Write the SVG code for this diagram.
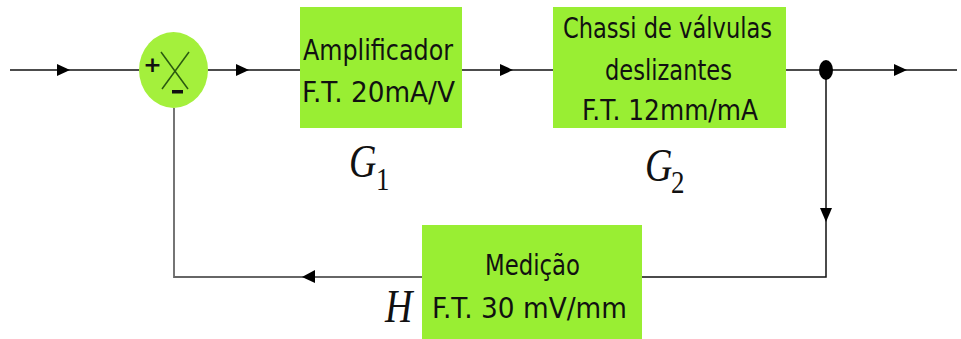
<svg xmlns="http://www.w3.org/2000/svg" width="961" height="339" viewBox="0 0 961 339">
<style>
.box{fill:#99ee33;}
.t{font-family:"DejaVu Sans","Liberation Sans",sans-serif;font-size:28px;fill:#111;text-anchor:middle;}
.m{font-family:"Liberation Serif",serif;font-style:italic;fill:#111;}
.s{font-family:"Liberation Serif",serif;font-size:27px;fill:#111;}
.ln{stroke:#111;stroke-width:1.5;fill:none;}
.fb{stroke:#666;stroke-width:1.8;fill:none;}
.ar{fill:#000;}
</style>
<g id="connectors">
  <line class="ln" x1="10" y1="70" x2="139" y2="70"/>
  <line class="ln" x1="208" y1="70" x2="300" y2="70"/>
  <line class="ln" x1="462" y1="70" x2="553" y2="70"/>
  <line class="ln" x1="786" y1="70" x2="957" y2="70"/>
  <polyline class="ln" points="826,70 826,277 642,277"/>
  <polyline class="fb" points="422,277 174,277 174,108"/>
  <polygon class="ar" points="57,64 70,70 57,76"/>
  <polygon class="ar" points="236,64 249,70 236,76"/>
  <polygon class="ar" points="500,64 513,70 500,76"/>
  <polygon class="ar" points="894,64 907,70 894,76"/>
  <polygon class="ar" points="820,208 832,208 826,222"/>
  <polygon class="ar" points="315,270 315,283 302,277"/>
  <ellipse cx="826" cy="70" rx="7" ry="10" fill="#000"/>
</g>
<g id="sum">
  <ellipse cx="173.5" cy="70" rx="34.5" ry="38" fill="#a4f03c"/>
  <line x1="161" y1="52" x2="188" y2="89" stroke="#2a5a10" stroke-width="1.5"/>
  <line x1="189" y1="52" x2="162" y2="89" stroke="#2a5a10" stroke-width="1.5"/>
  <text x="152.5" y="72" font-family="DejaVu Sans,sans-serif" font-size="22" font-weight="bold" text-anchor="middle" fill="#111">+</text>
  <rect x="172" y="90" width="11" height="3.5" fill="#111"/>
</g>
<g id="amplificador">
  <rect class="box" x="300" y="7" width="162" height="121"/>
  <text class="t" x="378" y="60" textLength="150" lengthAdjust="spacingAndGlyphs">Amplificador</text>
  <text class="t" x="378.5" y="102" textLength="153" lengthAdjust="spacingAndGlyphs">F.T. 20mA/V</text>
  <text class="m" transform="translate(349,177) scale(1,1.2)" font-size="38">G</text>
  <text class="s" transform="translate(376,190) scale(1,1.2)">1</text>
</g>
<g id="chassi">
  <rect class="box" x="553" y="7" width="233" height="121"/>
  <text class="t" x="667.5" y="38" textLength="209" lengthAdjust="spacingAndGlyphs">Chassi de válvulas</text>
  <text class="t" x="668.5" y="80" textLength="127" lengthAdjust="spacingAndGlyphs">deslizantes</text>
  <text class="t" x="670" y="120" textLength="176" lengthAdjust="spacingAndGlyphs">F.T. 12mm/mA</text>
  <text class="m" transform="translate(645,181) scale(1,1.2)" font-size="38">G</text>
  <text class="s" transform="translate(671,193) scale(1,1.2)">2</text>
</g>
<g id="medicao">
  <rect class="box" x="422" y="225" width="220" height="114"/>
  <text class="t" x="532.5" y="275" textLength="95" lengthAdjust="spacingAndGlyphs">Medição</text>
  <text class="t" x="529.5" y="318" textLength="195" lengthAdjust="spacingAndGlyphs">F.T. 30 mV/mm</text>
  <text class="m" transform="translate(385,322) scale(1,1.2)" font-size="38">H</text>
</g>
</svg>
